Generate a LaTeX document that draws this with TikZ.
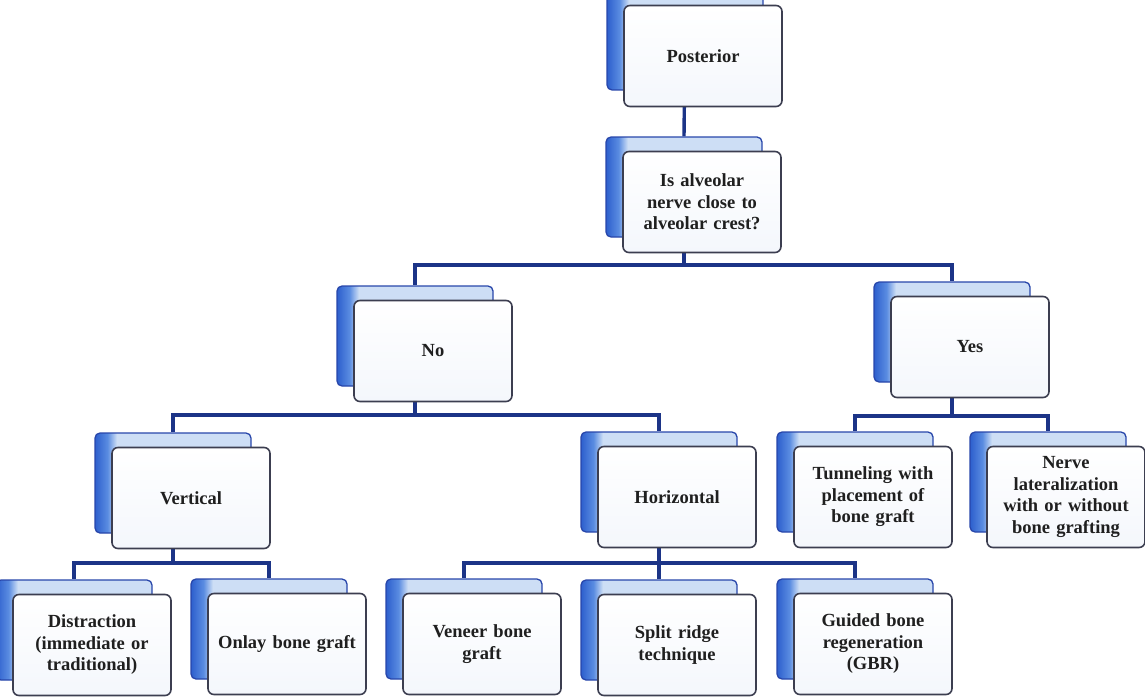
\documentclass[tikz,border=0pt]{standalone}
\usepackage{fontspec}
\setmainfont{Liberation Serif}
\usetikzlibrary{backgrounds}
\definecolor{bdark}{RGB}{45,95,205}
\definecolor{bdark2}{RGB}{90,140,225}
\definecolor{blight}{RGB}{205,222,245}
\definecolor{bborder}{RGB}{40,70,170}
\definecolor{fborder}{RGB}{60,62,80}
\definecolor{conncol}{RGB}{28,52,135}
\definecolor{ffill}{RGB}{244,247,252}
\pgfdeclarehorizontalshading{backsh}{100bp}{color(0bp)=(bdark); color(25bp)=(bdark); color(29bp)=(bdark2); color(32bp)=(blight); color(100bp)=(blight)}
\begin{document}
\begin{tikzpicture}[x=1pt,y=-1pt,
  backbox/.style={rectangle, rounded corners=5pt, minimum width=156pt, minimum height=100pt,
    draw=bborder, line width=1.3pt, shading=backsh, inner sep=0pt},
  frontbox/.style={rectangle, rounded corners=6pt, minimum width=158pt, minimum height=101pt,
    draw=fborder, line width=1.6pt, top color=white, bottom color=ffill, inner sep=2pt,
    align=center, text width=150pt, font=\fontsize{18.5}{21.5}\selectfont\bfseries, text=black!88},
  conn/.style={draw=conncol, line width=3.4pt}]
\useasboundingbox (0,0) rectangle (1145,698);
\node[backbox] (postb) at (685,40) {};
\node[frontbox] (post) at (703,56) {Posterior};
\node[backbox] (qb) at (684,187) {};
\node[frontbox] (q) at (702,202) {Is alveolar\\nerve close to\\alveolar crest?};
\node[backbox] (nob) at (415,336) {};
\node[frontbox] (no) at (433,351) {No};
\node[backbox] (yesb) at (952,332) {};
\node[frontbox] (yes) at (970,347) {Yes};
\node[backbox] (vertb) at (173,483) {};
\node[frontbox] (vert) at (191,498) {Vertical};
\node[backbox] (horb) at (659,482) {};
\node[frontbox] (hor) at (677,497) {Horizontal};
\node[backbox] (tunb) at (855,482) {};
\node[frontbox] (tun) at (873,497) {Tunneling with\\placement of\\bone graft};
\node[backbox] (nerb) at (1048,482) {};
\node[frontbox] (ner) at (1066,497) {Nerve\\lateralization\\with or without\\bone grafting};
\node[backbox] (distb) at (74,630) {};
\node[frontbox] (dist) at (92,645) {Distraction\\(immediate or\\traditional)};
\node[backbox] (onlb) at (269,629) {};
\node[frontbox] (onl) at (287,644) {Onlay bone graft};
\node[backbox] (venb) at (464,629) {};
\node[frontbox] (ven) at (482,644) {Veneer bone\\graft};
\node[backbox] (splb) at (659,630) {};
\node[frontbox] (spl) at (677,645) {Split ridge\\technique};
\node[backbox] (gbrb) at (855,629) {};
\node[frontbox] (gbr) at (873,644) {Guided bone\\regeneration\\(GBR)};
\begin{pgfonlayer}{background}
\draw[conn] (postb.center) -- (qb.north);
\draw[conn] (qb.center) |- (0,265 -| nob.center) -- (nob.north);
\draw[conn] (qb.center) |- (0,265 -| yesb.center) -- (yesb.north);
\draw[conn] (nob.center) |- (0,415 -| vertb.center) -- (vertb.north);
\draw[conn] (nob.center) |- (0,415 -| horb.center) -- (horb.north);
\draw[conn] (yesb.center) |- (0,416 -| tunb.center) -- (tunb.north);
\draw[conn] (yesb.center) |- (0,416 -| nerb.center) -- (nerb.north);
\draw[conn] (vertb.center) |- (0,563 -| distb.center) -- (distb.north);
\draw[conn] (vertb.center) |- (0,563 -| onlb.center) -- (onlb.north);
\draw[conn] (horb.center) |- (0,563 -| venb.center) -- (venb.north);
\draw[conn] (horb.center) -- (splb.north);
\draw[conn] (horb.center) |- (0,563 -| gbrb.center) -- (gbrb.north);
\end{pgfonlayer}
\end{tikzpicture}
\end{document}
